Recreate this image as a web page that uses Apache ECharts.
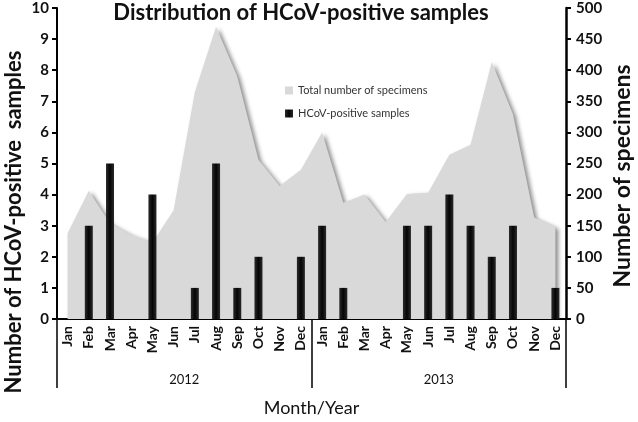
<!DOCTYPE html>
<html>
<head>
<meta charset="utf-8">
<script src="https://cdn.jsdelivr.net/npm/echarts@6/dist/echarts.min.js"></script>
<style>html,body{margin:0;padding:0;background:#fff}#c{width:638px;height:422px}</style>
</head>
<body>
<div id="c"></div>
<script>
var months = ['Jan','Feb','Mar','Apr','May','Jun','Jul','Aug','Sep','Oct','Nov','Dec',
              'Jan','Feb','Mar','Apr','May','Jun','Jul','Aug','Sep','Oct','Nov','Dec'];
var years = ['2012','2013'];
var positiveSamples = [0,3,5,0,4,0,1,5,1,2,0,2, 3,1,0,0,3,3,4,3,2,3,0,1];
var totalSpecimens = [138,206,154,135,123,175,365,470,390,256,214,240, 300,187,200,156,201,203,264,280,413,329,163,148];
var leftTicks = {min:0, max:10, interval:1};
var rightTicks = {min:0, max:500, interval:50};

var FONT = 'Lato';
var chart = echarts.init(document.getElementById('c'));
chart.setOption({
  animation: false,
  textStyle: {fontFamily: FONT},
  title: {
    text: 'Distribution of HCoV-positive samples',
    left: 296, top: -3, textAlign: 'center',
    textStyle: {fontFamily: FONT, fontWeight: 'bold', fontSize: 22, color: '#111'}
  },
  legend: {
    orient: 'vertical', left: 280, top: 80, itemGap: 12,
    itemWidth: 8, itemHeight: 8,
    textStyle: {fontFamily: FONT, fontSize: 11, color: '#333'},
    data: [{name: 'Total number of specimens', icon: 'rect'}, {name: 'HCoV-positive samples', icon: 'rect'}]
  },
  grid: {left: 57, right: 72, top: 8, bottom: 96},
  xAxis: [{
    type: 'category', data: months, position: 'bottom',
    axisLine: {lineStyle: {color: '#000', width: 2}},
    axisTick: {show: false},
    axisLabel: {rotate: 90, interval: 0, fontWeight: 'bold', fontSize: 14, color: '#111', margin: 7, fontFamily: FONT}
  }, {
    type: 'category', data: years, position: 'bottom',
    axisLine: {show: false},
    axisTick: {show: true, length: 69, lineStyle: {color: '#000', width: 1.5}},
    axisLabel: {fontSize: 13, color: '#111', margin: 54, fontFamily: FONT},
    name: 'Month/Year', nameLocation: 'middle', nameGap: 80,
    nameTextStyle: {fontSize: 18, color: '#111', fontFamily: FONT}
  }],
  yAxis: [{
    type: 'value', min: leftTicks.min, max: leftTicks.max, interval: leftTicks.interval,
    position: 'left',
    axisLine: {show: true, lineStyle: {color: '#000', width: 2}},
    axisTick: {show: true, length: 5, lineStyle: {color: '#000', width: 2}},
    splitLine: {show: false},
    axisLabel: {fontWeight: 'bold', fontSize: 15, color: '#111', margin: 8, fontFamily: FONT}
  }, {
    type: 'value', min: rightTicks.min, max: rightTicks.max, interval: rightTicks.interval,
    position: 'right',
    axisLine: {show: true, lineStyle: {color: '#000', width: 2.5}},
    axisTick: {show: true, length: 5, lineStyle: {color: '#000', width: 2}},
    splitLine: {show: false},
    axisLabel: {fontWeight: 'bold', fontSize: 15, color: '#111', margin: 10, fontFamily: FONT}
  }],
  graphic: [{
    type: 'text', x: 14, y: 222, rotation: Math.PI / 2,
    style: {text: 'Number of HCoV-positive  samples', fill: '#111', font: 'bold 22px ' + FONT,
            textAlign: 'center', textVerticalAlign: 'middle'}
  }, {
    type: 'text', x: 623, y: 176, rotation: Math.PI / 2,
    style: {text: 'Number of specimens', fill: '#111', font: 'bold 23px ' + FONT,
            textAlign: 'center', textVerticalAlign: 'middle'}
  }],
  series: [{
    name: 'Total number of specimens', type: 'line', xAxisIndex: 0, yAxisIndex: 1,
    data: totalSpecimens, symbol: 'none', z: 1,
    lineStyle: {width: 0, color: '#d9d9d9'},
    itemStyle: {color: '#d9d9d9'},
    areaStyle: {color: '#d9d9d9', opacity: 1, shadowColor: 'rgba(0,0,0,0.45)', shadowBlur: 4, shadowOffsetX: 3, shadowOffsetY: 2}
  }, {
    name: 'HCoV-positive samples', type: 'bar', xAxisIndex: 0, yAxisIndex: 0,
    data: positiveSamples, barWidth: 8, z: 3,
    itemStyle: {color: {type: 'linear', x: 0, y: 0, x2: 1, y2: 0, colorStops: [
      {offset: 0, color: '#2a2a2a'}, {offset: 0.5, color: '#050505'}, {offset: 1, color: '#2a2a2a'}]}}
  }]
});
</script>
</body>
</html>
